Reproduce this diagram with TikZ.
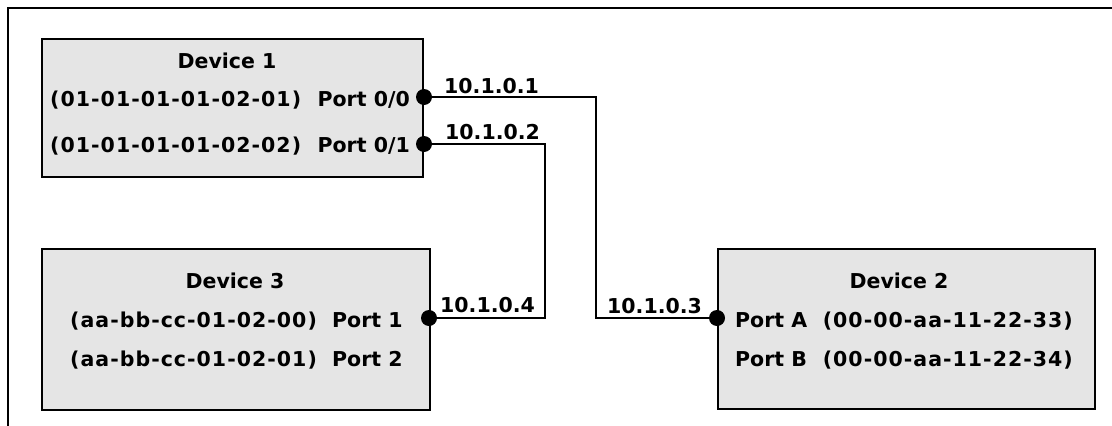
\documentclass[tikz,border=0pt]{standalone}
\usepackage{fontspec}
\setmainfont{DejaVu Sans}
\usepackage{tikz}

\begin{document}
\begin{tikzpicture}[x=1pt,y=-1pt,
	dev/.style={draw=black,line width=2.4pt,fill=gray!20,inner sep=0pt,anchor=north west},
	port/.style={circle,fill=black,inner sep=0pt,minimum size=16pt},
	txt/.style={inner sep=0pt,font=\bfseries\fontsize{20.5}{24}\selectfont},
	mac/.style={txt,font=\bfseries\fontsize{20.5}{24}\selectfont\addfontfeature{LetterSpace=5}},
	wire/.style={black,line width=2.8pt}]
\useasboundingbox (0,0) rectangle (1112,426);
\draw[black,line width=1.5pt] (8,426) -- (8,8) -- (1112,8);

\node[dev,minimum width=381pt,minimum height=138pt] (D1) at (41,38) {};
\node[dev,minimum width=388pt,minimum height=161pt] (D3) at (41,248) {};
\node[dev,minimum width=377pt,minimum height=160pt] (D2) at (717,248) {};

\node[txt,anchor=base] (T1) at (227,68) {Device 1};
\node[mac,anchor=base west] (M00) at (50,106) {(01-01-01-01-02-01)};
\node[txt,anchor=base east] (N00) at (410,106) {Port 0/0};
\node[mac,anchor=base west] (M01) at (50,152) {(01-01-01-01-02-02)};
\node[txt,anchor=base east] (N01) at (410,152) {Port 0/1};

\node[txt,anchor=base] (T3) at (235,288) {Device 3};
\node[mac,anchor=base west] (M1) at (70,327) {(aa-bb-cc-01-02-00)};
\node[txt,anchor=base west] (N1) at (332,327) {Port 1};
\node[mac,anchor=base west] (M2) at (70,366) {(aa-bb-cc-01-02-01)};
\node[txt,anchor=base west] (N2) at (332,366) {Port 2};

\node[txt,anchor=base] (T2) at (899,288) {Device 2};
\node[txt,anchor=base west] (NA) at (735,327) {Port A};
\node[mac,anchor=base east] (MA) at (1073,327) {(00-00-aa-11-22-33)};
\node[txt,anchor=base west] (NB) at (735,366) {Port B};
\node[mac,anchor=base east] (MB) at (1073,366) {(00-00-aa-11-22-34)};

% ports
\node[port] (P00) at (424,97) {};
\node[port] (P01) at (424,144) {};
\node[port] (P1) at (429,318) {};
\node[port] (PA) at (717,318) {};

% wires
\coordinate (B1) at (596,97);
\coordinate (B2) at (596,318);
\coordinate (B3) at (545,144);
\coordinate (B4) at (545,318);
\draw[wire] (P00.center) -- (B1) -- (B2) -- (PA.center);
\draw[wire] (P01.center) -- (B3) -- (B4) -- (P1.center);

\node[txt,anchor=base west] (L1) at (444,93) {10.1.0.1};
\node[txt,anchor=base west] (L2) at (445,139) {10.1.0.2};
\node[txt,anchor=base west] (L4) at (440,312) {10.1.0.4};
\node[txt,anchor=base west] (L3) at (607,313) {10.1.0.3};

\end{tikzpicture}
\end{document}
